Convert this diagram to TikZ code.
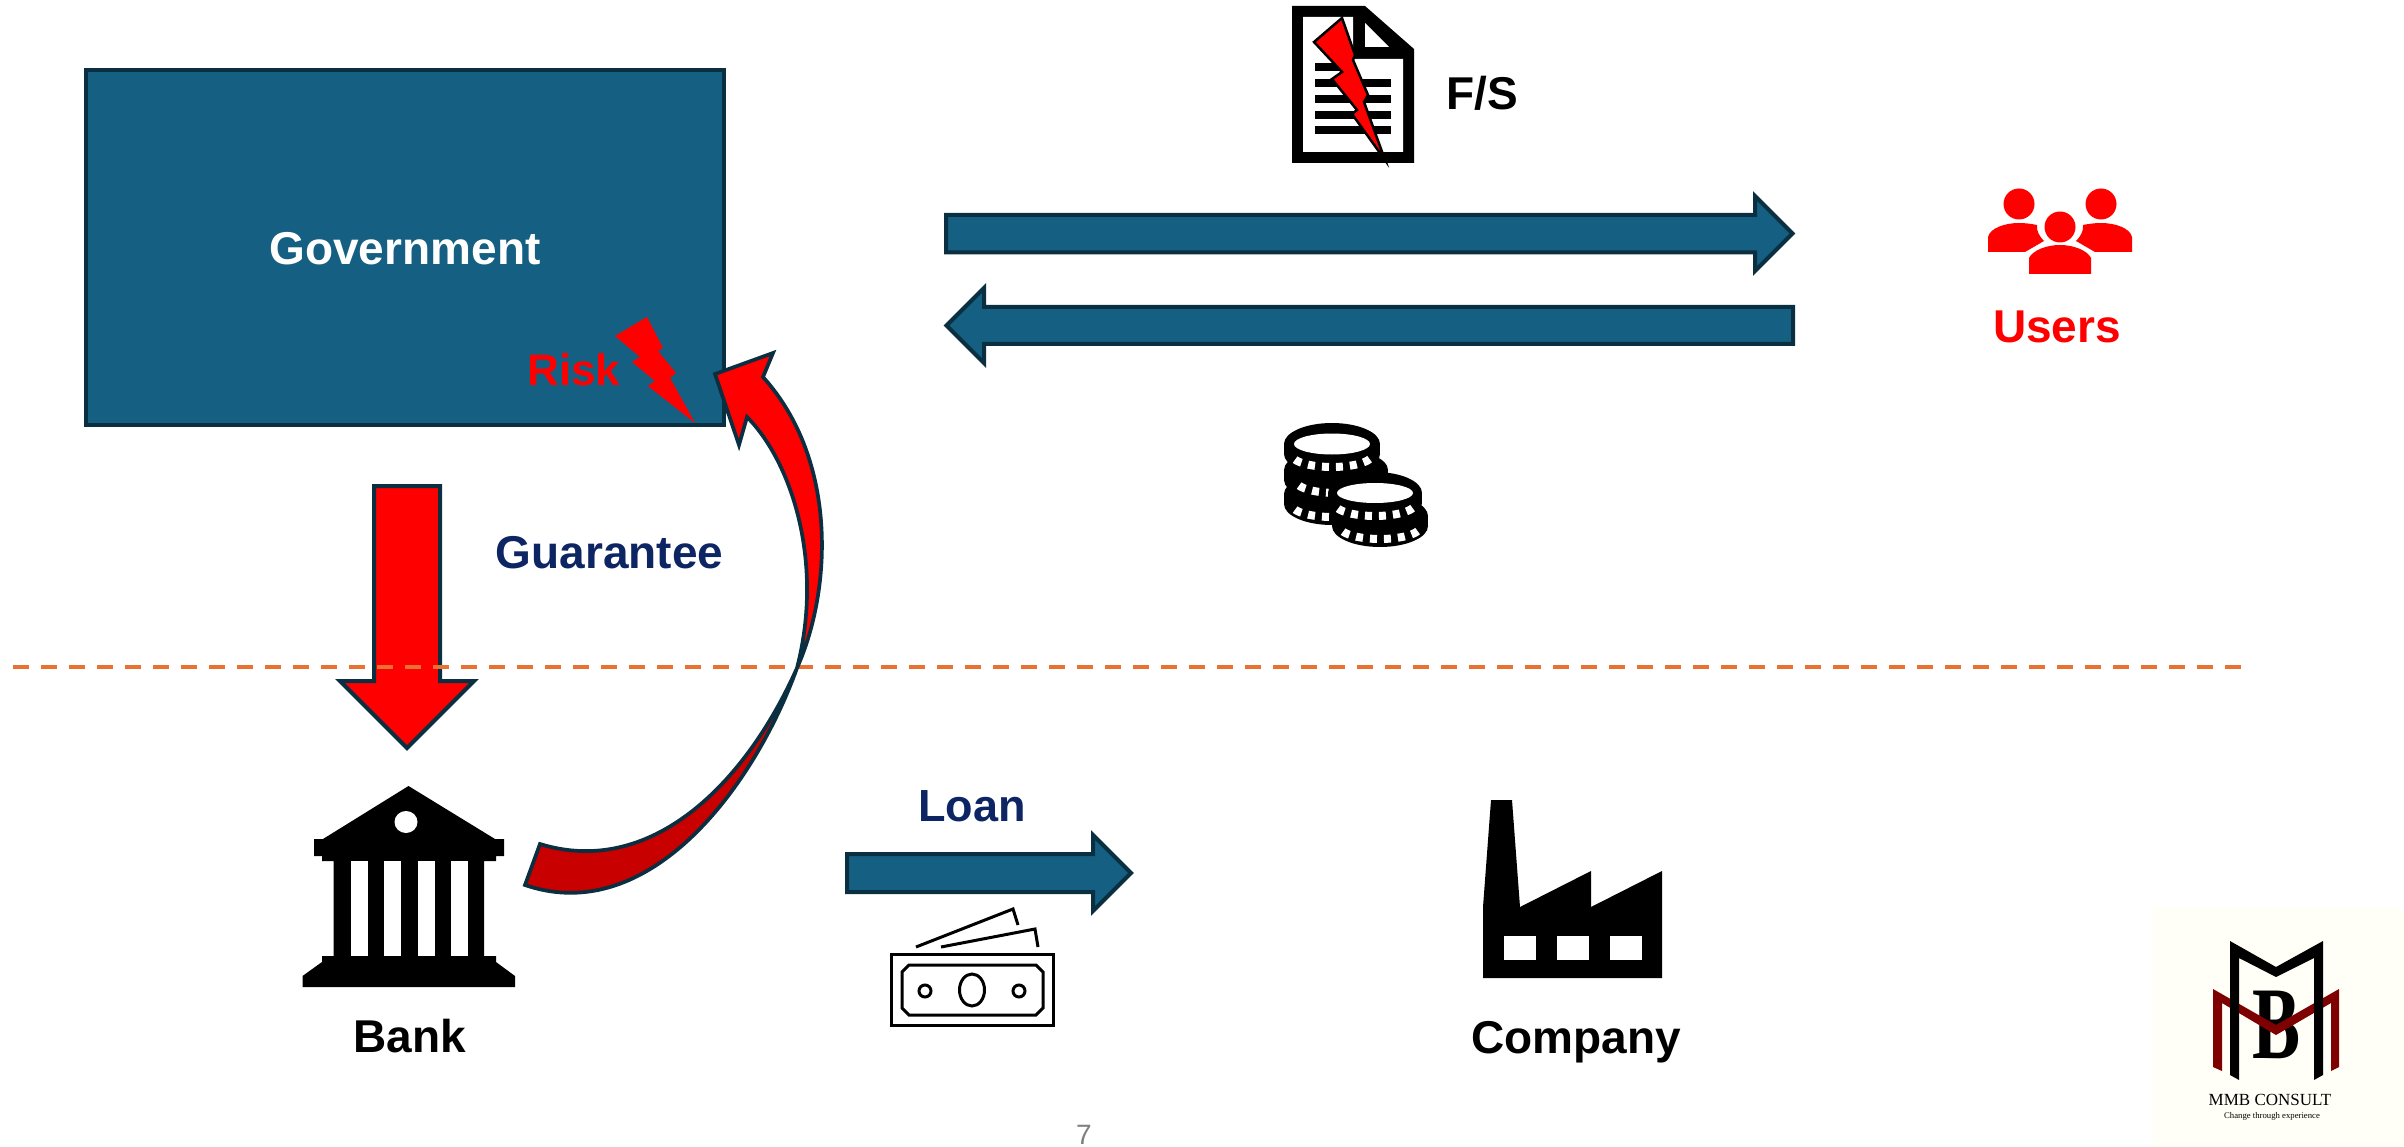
\documentclass[tikz,border=0pt]{standalone}
\usepackage{fontspec}
\setsansfont{Liberation Sans}
\newfontfamily\logoserif{Liberation Serif}
\definecolor{govblue}{HTML}{156082}
\definecolor{edgeblue}{HTML}{0A2F41}
\definecolor{labelnavy}{HTML}{0E2564}
\definecolor{dashorange}{HTML}{E97132}
\definecolor{logored}{HTML}{7F0000}
\definecolor{logoback}{HTML}{FFFFF8}
\definecolor{darkred}{HTML}{C80000}
\tikzset{
label/.style = {font = \sffamily\bfseries\fontsize{46}{50}\selectfont, inner sep = 0pt, anchor = base},
govbox/.style = {rectangle, draw = edgeblue, fill = govblue, line width = 4pt,
   minimum width = 638pt, minimum height = 355pt, inner sep = 0pt},
blockarrow/.style = {draw = edgeblue, line width = 4pt, fill = govblue},
redarrow/.style = {blockarrow, fill = red},
curved/.style = {draw = edgeblue, line width = 3.7pt}
}

\begin{document}
\begin{tikzpicture}[x = 1pt, y = -1pt]
\useasboundingbox (0,0) rectangle (2404,1147);

%% Government and its risk
\node [govbox] (gov) at (404.5,247.5) {};
\node [label, text = white] (govlabel) at (405,265) {Government};
\node [label, text = red, font = \sffamily\bfseries\fontsize{44}{50}\selectfont] (risk) at (574,386) {Risk};
\fill [red] (647,317) -- (615,336) -- (640,357) -- (632,362) -- (655,381) -- (648,386) -- (695,423)
   -- (670,378) -- (676,373) -- (658,351) -- (663,348) -- cycle;

%% Block arrows
\draw [blockarrow] (946,215) -- (1755,215) -- (1755,196) -- (1792.5,233.5) -- (1755,271) -- (1755,252.5)
   -- (946,252.5) -- cycle;
\draw [blockarrow] (1793,307) -- (984,307) -- (984,288) -- (946.5,325.5) -- (984,363) -- (984,344)
   -- (1793,344) -- cycle;
\draw [blockarrow] (847,854) -- (1093,854) -- (1093,835) -- (1131,873) -- (1093,911) -- (1093,892)
   -- (847,892) -- cycle;
\draw [redarrow] (374,486) -- (440,486) -- (440,681) -- (474,681) -- (407,748) -- (340,681) -- (374,681) -- cycle;

%% Separator
\draw [dashorange, line width = 3.5pt, dash pattern = on 16pt off 12pt] (13,667) -- (2242,667);

%% Curved arrow, bank back to government
\coordinate (cross) at (797,668);
\path [curved, fill = darkred] (540,844) .. controls (650,878) and (745,785) .. (cross)
   .. controls (755,785) and (650,928) .. (525,885) -- cycle;
\path [curved, fill = red] (cross) .. controls (832,590) and (838,460) .. (763,377) -- (773,353)
   -- (715,374) -- (739,445) -- (747,417) .. controls (790,460) and (825,560) .. (cross) -- cycle;

%% Labels
\node [label, text = labelnavy] (guaranteelabel) at (609.5,568) {Guarantee};
\node [label, text = labelnavy, font = \sffamily\bfseries\fontsize{45}{50}\selectfont] (loanlabel) at (972,821) {Loan};
\node [label] (fslabel) at (1482,110) {F/S};
\node [label, text = red] (userslabel) at (2057,343) {Users};
\node [label] (banklabel) at (410,1052) {Bank};
\node [label] (companylabel) at (1576,1053) {Company};
\node [font = \sffamily\fontsize{28}{30}\selectfont, text = black!50, inner sep = 0pt] (pagenum) at (1084,1135) {7};

%% Financial statement
\fill (1292,6) -- (1365,6) -- (1414,49) -- (1414,163) -- (1292,163) -- cycle;
\fill [white] (1303,17) -- (1353,17) -- (1353,59) -- (1403,59) -- (1403,152) -- (1303,152) -- cycle;
\fill [white] (1365,23) -- (1389,47) -- (1365,47) -- cycle;
\foreach \ly/\lw in {63/25, 79/76, 95/76, 111/76, 126/76}
   \fill (1315,\ly) rectangle +(\lw,8);
\filldraw [fill = red, draw = black, line width = 2.5pt, miter limit = 20] (1342,18) -- (1314,42) -- (1342,72)
   -- (1332,79) -- (1357,110) -- (1352,114) -- (1385,160) -- (1364,102) -- (1368,95) -- (1353,60)
   -- (1355,55) -- cycle;

%% Users
\foreach \hx/\hy in {2019/204, 2101/204, 2060/227}
   \fill [red] (\hx,\hy) circle (15.5);
\fill [red] (1988,252) -- (1988,237) .. controls (1990,228) and (2005,223) .. (2019,223)
   .. controls (2026,223) and (2032,224) .. (2037,225) .. controls (2036,231) and (2040,237) .. (2044,241)
   -- (2025,252) -- cycle;
\fill [red] (2132,252) -- (2132,237) .. controls (2130,228) and (2115,223) .. (2101,223)
   .. controls (2094,223) and (2088,224) .. (2083,225) .. controls (2084,231) and (2080,237) .. (2076,241)
   -- (2095,252) -- cycle;
\fill [red] (2029,274) -- (2029,258) .. controls (2033,250) and (2047,245) .. (2060,245)
   .. controls (2073,245) and (2087,250) .. (2091,258) -- (2091,274) -- cycle;

%% Coins
\foreach \cx/\cy/\rx in {1332/494/48, 1336/470/52, 1332/444/48, 1380/516/48, 1375/493/47} {
   \fill (\cx,\cy) ellipse [x radius = \rx, y radius = 21];
   \fill (\cx-\rx,\cy) rectangle (\cx+\rx,\cy+10);
   \fill (\cx,\cy+10) ellipse [x radius = \rx, y radius = 21];
   \draw [white, line width = 8pt, dash pattern = on 7pt off 7pt] plot [domain = 20:160, samples = 30]
      ({\cx + 40*cos(\x)}, {\cy + 11 + 12*sin(\x)});
}
\fill [white] (1332,444) ellipse [x radius = 38, y radius = 10.5];
\fill [white] (1375,493) ellipse [x radius = 38, y radius = 10];

%% Bank
\fill (408.5,786) -- (495,839) -- (504,839) -- (504,856) -- (496,856) -- (496,861) -- (484,861) -- (484,956)
   -- (496,956) -- (496,962) -- (515,976) -- (515,987) -- (302.5,987) -- (302.5,976) -- (322,962) -- (322,956)
   -- (333.5,956) -- (333.5,861) -- (322,861) -- (322,856) -- (314,856) -- (314,839) -- (323,839) -- cycle;
\foreach \wx in {350.5,384,417.5,451}
   \fill [white] (\wx,861) rectangle +(17,95);
\fill [white] (406,822) ellipse [x radius = 11.5, y radius = 11];

%% Money
\draw [line width = 3pt] (891.5,954.5) rectangle (1053,1025.5);
\draw [line width = 3pt] (909,965) -- (1036,965) -- (1043,972) -- (1043,1008) -- (1036,1015) -- (909,1015)
   -- (902,1008) -- (902,972) -- cycle;
\draw [line width = 3pt] (972,990) ellipse [x radius = 12.5, y radius = 16];
\foreach \mx in {925,1019}
   \draw [line width = 3pt] (\mx,991) circle (6);
\draw [line width = 3pt] (916,947) -- (1013,909) -- (1018,925);
\draw [line width = 3pt] (941,947) -- (1035,929) -- (1038,947);

%% Company
\fill (1483,978) -- (1483,907) -- (1491,800) -- (1512,800) -- (1520,907) -- (1591,871) -- (1591,907)
   -- (1662,871) -- (1662,978) -- cycle;
\foreach \wx in {1504,1557,1610}
   \fill [white] (\wx,936) rectangle +(32,24);

%% Logo
\fill [logoback] (2153,908) rectangle (2404,1147);
\node [font = \logoserif\bfseries\fontsize{103}{103}\selectfont, inner sep = 0pt, anchor = base, xscale = 0.7] (logob) at (2277,1058) {B};
\fill [logored] (2213,989) -- (2276,1025) -- (2339,989) -- (2339,1067) -- (2331,1071) -- (2331,1003)
   -- (2276,1035) -- (2222,1003) -- (2222,1071) -- (2213,1067) -- cycle;
\fill (2230,941) -- (2276,967) -- (2323,941) -- (2323,1075) -- (2314,1080) -- (2314,958) -- (2276,977)
   -- (2239,958) -- (2239,1080) -- (2230,1075) -- cycle;
\node [font = \logoserif\fontsize{17}{22}\selectfont, inner sep = 0pt] (logoname) at (2270,1100) {MMB CONSULT};
\node [font = \logoserif\fontsize{8.7}{12}\selectfont, inner sep = 0pt] (logotag) at (2272,1116) {Change through experience};

\end{tikzpicture}
\end{document}
